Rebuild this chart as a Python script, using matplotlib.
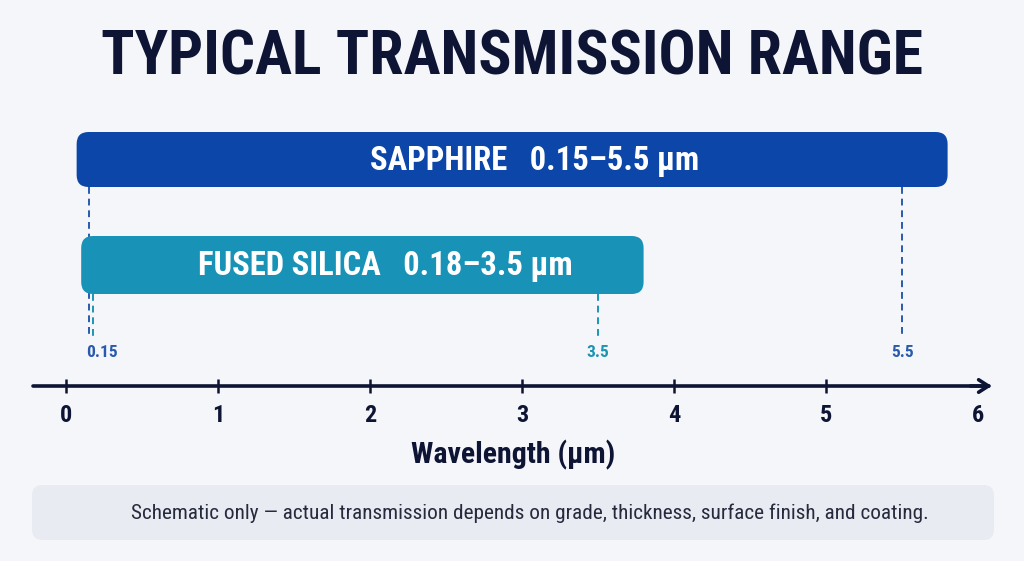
import matplotlib
matplotlib.use("Agg")
import matplotlib.pyplot as plt
from matplotlib.patches import FancyBboxPatch

# data
materials = ["SAPPHIRE", "FUSED SILICA"]
range_lo = [0.15, 0.18]
range_hi = [5.5, 3.5]
lo_labels = ["0.15", None]
hi_labels = ["5.5", "3.5"]
tick_values = [0, 1, 2, 3, 4, 5, 6]

bar_colors = ["#0B46A8", "#1892B6"]
mark_colors = ["#2A5AAE", "#1C94B4"]
navy = "#0E1434"
bg = "#F5F6FA"
cond = ["Roboto Condensed", "DejaVu Sans"]

W, H = 1024, 561
px_per_um = 152.0
x0_px = 66.0

fig = plt.figure(figsize=(W / 100, H / 100), dpi=100, facecolor=bg)
ax = fig.add_axes([0, 0, 1, 1], facecolor=bg)
ax.set_xlim(-x0_px / px_per_um, (W - x0_px) / px_per_um)
ax.set_ylim(H, 0)

# bars (y in pixel rows, x in micrometres)
bar_top = [132, 236]
bar_h = [55, 58]
pad_l, pad_r = 0.08, 0.30
rad = 12 / px_per_um
for i, name in enumerate(materials):
    x1 = range_lo[i] - pad_l
    x2 = range_hi[i] + pad_r
    box = FancyBboxPatch((x1, bar_top[i]), x2 - x1, bar_h[i],
                         boxstyle=f"round,pad=0,rounding_size={rad}",
                         mutation_aspect=px_per_um,
                         fc=bar_colors[i], ec="none", zorder=3)
    ax.add_patch(box)
    ax.text((x1 + x2) / 2 + 0.15, bar_top[i] + bar_h[i] / 2 + 1,
            f"{name}   {range_lo[i]:g}\u2013{range_hi[i]:g} \u00b5m",
            color="white", fontsize=23.5, fontweight="bold", family=cond,
            ha="center", va="center", zorder=4)

    # dashed guides down to the axis
    bot = bar_top[i] + bar_h[i]
    for val, lab, end in ((range_lo[i], lo_labels[i], 338),
                          (range_hi[i], hi_labels[i], 336)):
        ax.plot([val, val], [bot, end], color=mark_colors[i], lw=1.4,
                ls=(0, (3.5, 2.5)), zorder=2)
        if lab:
            ha = "left" if val < 1 else "center"
            xx = val - 0.02 if val < 1 else val
            ax.text(xx, 352, lab, color=mark_colors[i], fontsize=12.5,
                    fontweight="bold", family=cond, ha=ha, va="center")

# axis line with open arrow head
axis_y = 386
ax.plot([-0.217, 6.07], [axis_y, axis_y], color=navy, lw=2.6,
        solid_capstyle="round", zorder=2)
ax.annotate("", xy=(6.09, axis_y), xytext=(5.95, axis_y),
            arrowprops=dict(arrowstyle="->,head_length=0.7,head_width=0.45",
                            color=navy, lw=2.6, shrinkA=0, shrinkB=0))

for s in ["left", "right", "top", "bottom"]:
    ax.spines[s].set_visible(False)
ax.spines["bottom"].set_position(("data", axis_y))
ax.set_yticks([])
ax.set_xticks(tick_values)
ax.set_xticklabels([str(t) for t in tick_values])
ax.tick_params(axis="x", direction="inout", length=10, width=1.8,
               color=navy, labelcolor=navy, labelsize=17.5, pad=8)
for lab in ax.get_xticklabels():
    lab.set_fontweight("bold")
    lab.set_family(cond)
ax.xaxis.get_major_ticks()[-1].tick1line.set_visible(False)

ax.text(2.94, 455, "Wavelength (\u00b5m)", color=navy, fontsize=21.5,
        fontweight="bold", family=cond, ha="center", va="center")

# title
ax.text(0.5, 0.898, "TYPICAL TRANSMISSION RANGE", transform=fig.transFigure,
        color=navy, fontsize=44.5, fontweight="bold", family=cond,
        ha="center", va="center")

# note box
note = FancyBboxPatch((32 / W, 1 - 540 / H), (994 - 32) / W, 55 / H,
                      boxstyle="round,pad=0,rounding_size=0.01",
                      mutation_aspect=W / H,
                      transform=fig.transFigure, fc="#E9EBF2", ec="none")
fig.patches.append(note)
fig.text(530 / W, 1 - 513 / H,
         "Schematic only \u2014 actual transmission depends on grade, thickness, surface finish, and coating.",
         color="#262A3C", fontsize=15.3, family=cond,
         ha="center", va="center")

fig.savefig("out.png", dpi=100, facecolor=bg)
